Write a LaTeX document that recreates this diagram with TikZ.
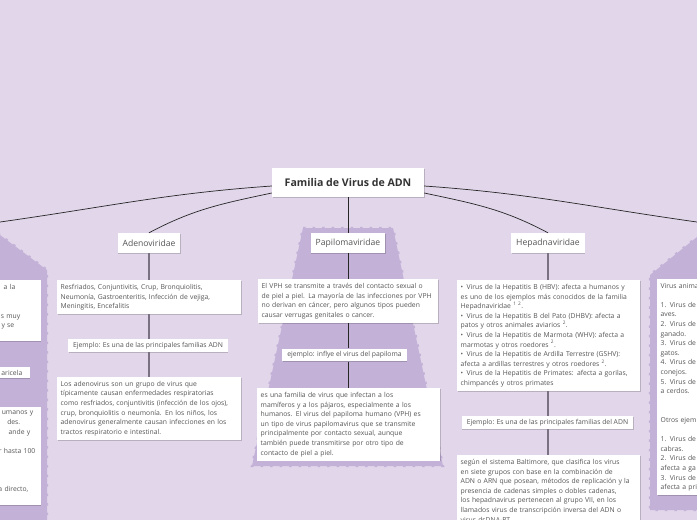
\documentclass[tikz,border=0pt]{standalone}
\usepackage{fontspec}
\setmainfont{Open Sans}
\usetikzlibrary{shadows}

\definecolor{fondo}{HTML}{E1D6EA}
\definecolor{lila}{HTML}{C4B1D8}
\definecolor{gristexto}{HTML}{555555}
\definecolor{grislinea}{HTML}{7A7282}

\tikzset{
  sombra/.style={drop shadow={shadow xshift=0.6pt, shadow yshift=-0.8pt, opacity=0.18, fill=black}},
  titulo/.style={fill=white, text=black!80, font=\bfseries\fontsize{10.6}{12}\selectfont,
    minimum height=29pt, minimum width=152pt, sombra},
  familia/.style={fill=white, text=gristexto, font=\fontsize{8.6}{10}\selectfont,
    minimum height=20pt, inner xsep=5pt, sombra},
  caja/.style={fill=white, text=gristexto, font=\fontsize{6.8}{9.6}\selectfont,
    align=left, inner xsep=3.5pt, inner ysep=4pt, anchor=north west, sombra},
  ejemplo/.style={fill=white, text=gristexto, font=\fontsize{6.8}{9.6}\selectfont,
    inner xsep=5pt, inner ysep=3pt, sombra},
  fondolila/.style={fill=lila, draw=lila, line width=2.4pt, dash pattern=on 2.5pt off 7pt},
  rama/.style={black!85, line width=0.7pt},
  tronco/.style={grislinea, line width=1.3pt}
}

\begin{document}
\begin{tikzpicture}[x=1pt, y=-1pt]
  \useasboundingbox (0,0) rectangle (697,520);
  \fill[fondo] (0,0) rectangle (697,520);

  % fondos lila
  \path[fondolila] (-10,228) -- (0,235) -- (47,270) -- (47,530) -- (-10,530) -- cycle;
  \path[fondolila] (303,228) -- (393,228) -- (443,466) -- (252,466) -- cycle;
  \path[fondolila] (707,229) -- (697,237) -- (650,275) -- (650,510) -- (707,510) -- cycle;

  % nodos
  \node[titulo] (raiz) at (348,182.5) {Familia de Virus de ADN};
  \node[familia] (adeno) at (149,243) {Adenoviridae};
  \node[familia] (papil) at (348,243) {Papilomaviridae};
  \node[familia] (hepad) at (548,243) {Hepadnaviridae};
  \coordinate (izq) at (0,222);
  \coordinate (der) at (697,222);

  % Adenoviridae
  \node[caja, text width=177pt] (ad1) at (57,280) {Resfriados, Conjuntivitis, Crup, Bronquiolitis,\\
    Neumonía, Gastroenteritis, Infección de vejiga,\\ Meningitis, Encefalitis};
  \node[ejemplo] (ad2) at (148,345.5) {Ejemplo: Es una de las principales familias ADN};
  \node[caja, text width=177pt] (ad3) at (57,377) {Los adenovirus son un grupo de virus que\\
    típicamente causan enfermedades respiratorias\\
    como resfriados, conjuntivitis (infección de los ojos),\\
    crup, bronquiolitis o neumonía. En los niños, los\\
    adenovirus generalmente causan infecciones en los\\
    tractos respiratorio e intestinal.};

  % Papilomaviridae
  \node[caja, text width=173pt] (pa1) at (258,279) {El VPH se transmite a través del contacto sexual o\\
    de piel a piel. La mayoría de las infecciones por VPH\\
    no derivan en cáncer, pero algunos tipos pueden\\
    causar verrugas genitales o cancer.};
  \node[ejemplo] (pa2) at (344.5,355) {ejemplo: inflye el virus del papiloma};
  \node[caja, text width=176pt] (pa3) at (257,388) {es una familia de virus que infectan a los\\
    mamíferos y a los pájaros, especialmente a los\\
    humanos. El virus del papiloma humano (VPH) es\\
    un tipo de virus papilomavirus que se transmite\\
    principalmente por contacto sexual, aunque\\
    también puede transmitirse por otro tipo de\\
    contacto de piel a piel.};

  % Hepadnaviridae
  \node[caja, text width=176pt] (he1) at (457,280) {•\, Virus de la Hepatitis B (HBV): afecta a humanos y\\
    es uno de los ejemplos más conocidos de la familia\\
    Hepadnaviridae \textsuperscript{1 2}.\\
    •\, Virus de la Hepatitis B del Pato (DHBV): afecta a\\
    patos y otros animales aviarios \textsuperscript{2}.\\
    •\, Virus de la Hepatitis de Marmota (WHV): afecta a\\
    marmotas y otros roedores \textsuperscript{2}.\\
    •\, Virus de la Hepatitis de Ardilla Terrestre (GSHV):\\
    afecta a ardillas terrestres y otros roedores \textsuperscript{2}.\\
    •\, Virus de la Hepatitis de Primates: afecta a gorilas,\\
    chimpancés y otros primates};
  \node[ejemplo] (he2) at (547.5,422.5) {Ejemplo: Es una de las principales familias del ADN};
  \node[caja, text width=176pt] (he3) at (457,455) {según el sistema Baltimore, que clasifica los virus\\
    en siete grupos con base en la combinación de\\
    ADN o ARN que posean, métodos de replicación y la\\
    presencia de cadenas simples o dobles cadenas,\\
    los hepadnavirus pertenecen al grupo VII, en los\\
    llamados virus de transcripción inversa del ADN o\\
    virus dsDNA-RT.};

  % columna izquierda (cortada)
  \node[caja, anchor=north east, align=right, text width=120pt] (iz1) at (41,280) {a la\kern22pt\\
    \mbox{}\\ \mbox{}\\ s muy\kern17pt\\ y se\kern23pt\\ \mbox{}};
  \node[caja, anchor=north east, align=right, text width=120pt, inner ysep=3pt] (iz2) at (30,367) {aricela\kern4pt};
  \node[caja, anchor=north east, align=right, text width=120pt] (iz3) at (41,407) {umanos y\kern4pt\\
    des.\kern17pt\\ ande y\kern7pt\\ \mbox{}\\ r hasta 100\kern2pt\\ \mbox{}\\ \mbox{}\\ \mbox{}\\
    a directo,\kern9pt\\ \mbox{}};

  % columna derecha (cortada)
  \node[caja, text width=150pt] (de1) at (657,279) {Virus anima\\ \mbox{}\\
    1. Virus de\\ aves.\\ 2. Virus de\\ ganado.\\ 3. Virus de\\ gatos.\\
    4. Virus de\\ conejos.\\ 5. Virus de\\ a cerdos.\\ \mbox{}\\ \mbox{}\\
    Otros ejem\\ \mbox{}\\ 1. Virus de\\ cabras.\\ 2. Virus de\\ afecta a ga\\
    3. Virus de\\ afecta a pri};

  % conectores
  \draw[rama] ([yshift=-3.5pt]raiz.west) to[out=184, in=8] (izq);
  \draw[rama] ([yshift=-10.5pt]raiz.west) to[out=192, in=28] (adeno.north);
  \draw[rama] (raiz.south) -- (papil.north);
  \draw[rama] ([yshift=-10.5pt]raiz.east) to[out=-12, in=152] (hepad.north);
  \draw[rama] ([yshift=-3.5pt]raiz.east) to[out=-4, in=172] (der);

  \draw[tronco] (adeno.south) -- (adeno.south |- ad1.north);
  \draw[tronco] (adeno.south |- ad1.south) -- (adeno.south |- ad2.north);
  \draw[tronco] (adeno.south |- ad2.south) -- (adeno.south |- ad3.north);

  \draw[rama] (papil.south) -- (papil.south |- pa1.north);
  \draw[rama] (papil.south |- pa1.south) -- (papil.south |- pa2.north);
  \draw[rama] (papil.south |- pa2.south) -- (papil.south |- pa3.north);

  \draw[tronco] (hepad.south) -- (hepad.south |- he1.north);
  \draw[tronco] (hepad.south |- he1.south) -- (hepad.south |- he2.north);
  \draw[tronco] (hepad.south |- he2.south) -- (hepad.south |- he3.north);
\end{tikzpicture}
\end{document}
